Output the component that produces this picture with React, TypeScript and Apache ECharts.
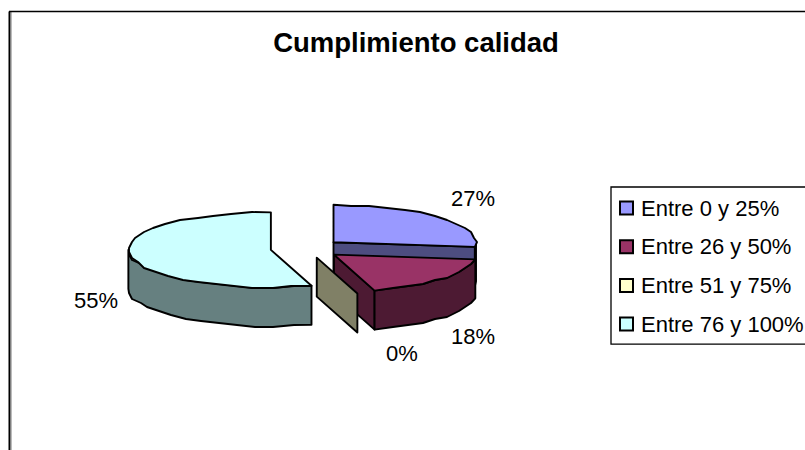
import React, { useEffect, useRef } from "react";
import * as echarts from "echarts";

const titleText = "Cumplimiento calidad";
const categories = ["Entre 0 y 25%", "Entre 26 y 50%", "Entre 51 y 75%", "Entre 76 y 100%"];
const values = [27, 18.4, 0, 54.6];
const topColors = ["#9999FF", "#993366", "#FFFFCC", "#CCFFFF"];
const sideColors = ["#4D4D80", "#4D1A33", "#808066", "#668080"];
const drawOrder = [3, 0, 1, 2];
const labelX = [473, 473, 402, 96];
const labelY = [198, 336, 353, 300];

const CX = 306.5, CY = 248.5, RX = 142.5, RY = 37.5, DEPTH = 39, EX = 36, EY = 9.5;
const total = values.reduce((a, b) => a + b, 0);

function rough(x: number, y: number): number[] {
  return [Math.round(x / 3) * 3, Math.round(y / 2) * 2];
}

function arc(ax: number, ay: number, from: number, to: number, dy = 0): number[][] {
  const n = Math.max(1, Math.ceil(Math.abs(to - from) / 0.14));
  const pts: number[][] = [];
  for (let i = 0; i <= n; i++) {
    const t = from + ((to - from) * i) / n;
    const x = ax + RX * Math.sin(t), y = ay - RY * Math.cos(t);
    const p = i === 0 || i === n ? [x, y] : rough(x, y);
    pts.push([p[0], p[1] + dy]);
  }
  return pts;
}

function sliceChildren(index: number, value: number) {
  let before = 0;
  for (let i = 0; i < index; i++) before += values[i];
  const a0 = (before / total) * Math.PI * 2;
  const a1 = a0 + (value / total) * Math.PI * 2;
  const mid = (a0 + a1) / 2;
  const ax = CX + EX * Math.sin(mid), ay = CY - EY * Math.cos(mid);
  const line = { stroke: "#000", lineWidth: 1.9, lineJoin: "round" };
  const side = { ...line, fill: sideColors[index] };
  const out: any[] = [];
  const xAt = (t: number) => [ax + RX * Math.sin(t), ay - RY * Math.cos(t)];
  const cutFace = (t: number) => {
    const p = xAt(t);
    return { type: "polygon", shape: { points: [[ax, ay], p, [p[0], p[1] + DEPTH], [ax, ay + DEPTH]] }, style: side };
  };
  if (value === 0) {
    out.push(cutFace(a0));
  } else {
    if (Math.sin(a1) > 0) out.push(cutFace(a1));
    const s0 = Math.max(a0, Math.PI / 2), s1 = Math.min(a1, (Math.PI * 3) / 2);
    if (s1 > s0) {
      const top = arc(ax, ay, s0, s1);
      const bottom = arc(ax, ay, s1, s0, DEPTH);
      out.push({ type: "polygon", shape: { points: [...top, ...bottom] }, style: side });
    }
    const rim = arc(ax, ay, a0, a1);
    out.push({ type: "polygon", shape: { points: [[ax, ay], ...rim] }, style: { ...line, fill: topColors[index] } });
  }
  out.push({
    type: "text",
    style: {
      text: `${Math.round(value)}%`, x: labelX[index], y: labelY[index], align: "center", verticalAlign: "middle",
      fill: "#000", font: '22px "Liberation Sans"',
    },
  });
  return out;
}

export default function App() {
  const ref = useRef<HTMLDivElement>(null);
  useEffect(() => {
    document.body.style.margin = "0";
    const chart = echarts.init(ref.current!, undefined, { renderer: "svg" });
    chart.setOption({
      animation: false,
      backgroundColor: "#fff",
      title: {
        text: titleText, left: 411, top: 23, textAlign: "center",
        textStyle: { fontFamily: "Liberation Sans", fontWeight: "bold", fontSize: 27.5, color: "#000" },
      },
      legend: {
        data: categories, orient: "vertical", left: 611, top: 187,
        padding: [10, 20, 9, 8], itemGap: 16.7, itemWidth: 13, itemHeight: 13, icon: "rect",
        borderColor: "#000", borderWidth: 1.3, selectedMode: false,
        textStyle: { fontFamily: "Liberation Sans", fontSize: 22, color: "#000", padding: [0, 0, 0, 3] },
      },
      graphic: [
        { type: "line", shape: { x1: 11.5, y1: 12, x2: 11.5, y2: 450 }, style: { stroke: "#bbb", lineWidth: 1 } },
        { type: "line", shape: { x1: 9.5, y1: 11.5, x2: 9.5, y2: 450 }, style: { stroke: "#000", lineWidth: 2 } },
        { type: "line", shape: { x1: 9, y1: 11.5, x2: 805, y2: 11.5 }, style: { stroke: "#000", lineWidth: 1.3 } },
      ],
      series: categories.map((name, i) => ({
        type: "custom", name, coordinateSystem: "none", z: 2 + drawOrder.indexOf(i),
        silent: true,
        itemStyle: { color: topColors[i], borderColor: "#000", borderWidth: 2 },
        data: [[values[i]]],
        renderItem: (_: any, api: any) => ({ type: "group", children: sliceChildren(i, api.value(0)) }),
      })),
    });
    return () => chart.dispose();
  }, []);
  return <div ref={ref} style={{ width: 805, height: 450 }} />;
}
